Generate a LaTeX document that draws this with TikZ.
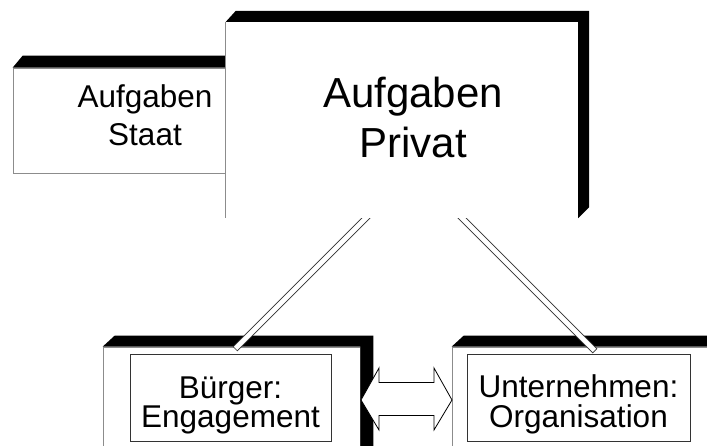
\documentclass[tikz,border=0pt]{standalone}
\usepackage{fontspec}
\setmainfont{Liberation Sans}
\usetikzlibrary{calc}
\lineskiplimit=-40pt
\tikzset{
  face/.style={rectangle, inner sep=0pt, fill=white, draw=black!45, line width=0.7pt},
  faceonly/.style={rectangle, inner sep=0pt, fill=white},
  inner/.style={rectangle, inner sep=0pt, draw=black!80, line width=0.8pt},
  extr/.style={fill=black},
  lbl/.style={align=center, inner sep=0pt, text=black},
  small/.style={font=\fontsize{31.5}{38}\selectfont},
  big/.style={font=\fontsize{42}{50}\selectfont},
  tight/.style={font=\fontsize{31.5}{29.5}\selectfont},
  connout/.style={draw=black!80, line width=6.4pt},
  connin/.style={draw=white, line width=4.8pt, shorten >=0.8pt},
  blockarrow/.style={fill=white, draw=black, line width=0.8pt, line join=miter}
}
\begin{document}
\begin{tikzpicture}[x=1pt,y=-1pt]
\path[use as bounding box, clip] (0,0) rectangle (707,446);

% bottom left box
\node[face, minimum width=257pt, minimum height=133pt] (bface) at (231.5,413.5) {};
\fill[extr] (bface.north west) -- ++(12,-11) -- ($(bface.north east)+(13,-11)$)
  -- ($(bface.south east)+(13,-11)$) -- (bface.south east) -- (bface.north east) -- cycle;
\node[inner, minimum width=201pt, minimum height=87pt] (bin) at (230.5,397.5) {};
\node[lbl, tight] (btxt) at (230.5,405.6) {Bürger:\\Engagement};

% bottom right box
\node[face, minimum width=328pt, minimum height=133pt] (uface) at (616,413.5) {};
\fill[extr] (uface.north west) -- ++(12,-11) -- ($(uface.north east)+(13,-11)$)
  -- ($(uface.south east)+(13,-11)$) -- (uface.south east) -- (uface.north east) -- cycle;
\node[inner, minimum width=223pt, minimum height=87pt] (uin) at (578.5,397.5) {};
\node[lbl, tight] (utxt) at (578.5,404.3) {Unternehmen:\\Organisation};

% double block arrow between the boxes
\coordinate (ac) at (406.5,399);
\draw[blockarrow, shift={(ac)}] (-45.5,1) -- (-27.5,-31) -- (-27.5,-16.5) -- (27.5,-16.5)
  -- (27.5,-31) -- (45.5,1) -- (27.5,31) -- (27.5,16.5) -- (-27.5,16.5) -- (-27.5,31) -- cycle;

% connectors
\coordinate (lt) at (402,182);
\coordinate (lb) at (235,349);
\coordinate (rt) at (426,182);
\coordinate (rb) at (595,351);
\draw[connout] (lt) -- (lb);
\draw[connin] (lt) -- (lb);
\draw[connout] (rt) -- (rb);
\draw[connin] (rt) -- (rb);

% Staat box
\node[face, minimum width=264pt, minimum height=105pt] (sface) at (145,120.5) {};
\fill[extr] (sface.north west) -- ++(10,-12) -- ($(sface.north east)+(10,-12)$)
  -- ($(sface.south east)+(10,-12)$) -- (sface.south east) -- (sface.north east) -- cycle;
\node[lbl, small] (stxt) at (145,115.5) {Aufgaben\\Staat};

% Privat box
\node[faceonly, minimum width=352pt, minimum height=196pt] (pface) at (402,120) {};
\fill[extr] (pface.north west) -- ++(10,-11) -- ($(pface.north east)+(11,-11)$)
  -- ($(pface.south east)+(11,-11)$) -- (pface.south east) -- (pface.north east) -- cycle;
\draw[draw=black!45, line width=0.7pt] (pface.north west) -- (pface.south west);
\node[lbl, big] (ptxt) at (413,117.7) {Aufgaben\\Privat};
\end{tikzpicture}
\end{document}
